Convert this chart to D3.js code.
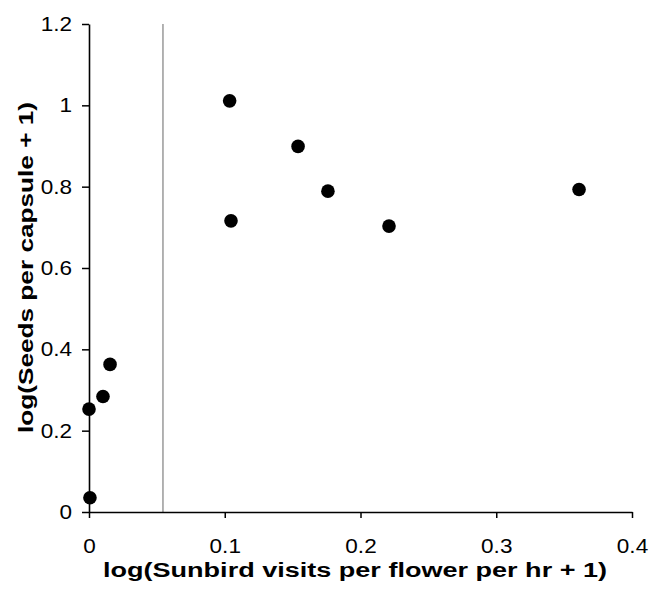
<!DOCTYPE html>
<html>
<head>
<meta charset="utf-8">
<script src="https://cdn.jsdelivr.net/npm/d3@7"></script>
<style>
  html, body { margin: 0; padding: 0; background: #fff; }
  svg { display: block; }
  text { font-family: "Liberation Sans", Arial, sans-serif; fill: #000; }
</style>
</head>
<body>
<svg id="chart" width="651" height="589"></svg>
<script>
// Data
const visits = [0.1036, 0.154, 0.176, 0.1046, 0.221, 0.361, 0.0, 0.0103, 0.0007, 0.0155];
const seeds  = [1.011, 0.899, 0.789, 0.716, 0.703, 0.793, 0.253, 0.284, 0.035, 0.363];
const thresholdX = [0.0545];
const xTicks = [0, 0.1, 0.2, 0.3, 0.4];
const yTicks = [0, 0.2, 0.4, 0.6, 0.8, 1, 1.2];
const xTitle = "log(Sunbird visits per flower per hr + 1)";
const yTitle = "log(Seeds per capsule + 1)";

const margin = { left: 89, right: 19, top: 24, bottom: 77 };
const W = 651, H = 589;
const svg = d3.select("#chart");

const x = d3.scaleLinear().domain([0, 0.4]).range([margin.left, W - margin.right]);
const y = d3.scaleLinear().domain([0, 1.2]).range([H - margin.bottom, margin.top]);

const fmt = d => (d === 0 ? "0" : (d === 1 ? "1" : d.toFixed(1)));

// threshold vertical line
svg.selectAll("line.thr").data(thresholdX).join("line")
  .attr("class", "thr")
  .attr("x1", d => x(d)).attr("x2", d => x(d))
  .attr("y1", y(1.2)).attr("y2", y(0))
  .attr("stroke", "#666").attr("stroke-width", 1);

function widen(sel, k) {
  sel.each(function () {
    const L = this.getComputedTextLength();
    d3.select(this).attr("textLength", L * k).attr("lengthAdjust", "spacingAndGlyphs");
  });
}

// x axis
const xAxis = svg.append("g")
  .attr("transform", `translate(0,${y(0)})`)
  .call(d3.axisBottom(x).tickValues(xTicks).tickFormat(fmt).tickSize(6).tickPadding(20).tickSizeOuter(0));
xAxis.select(".domain").attr("stroke", "#000").attr("stroke-width", 1.6);
xAxis.selectAll(".tick line").attr("stroke", "#000").attr("stroke-width", 1.5);
xAxis.selectAll(".tick text").attr("font-size", 20.5).attr("font-family", "Liberation Sans, Arial, sans-serif");
widen(xAxis.selectAll(".tick text"), 1.1);

// y axis
const yAxis = svg.append("g")
  .attr("transform", `translate(${x(0)},0)`)
  .call(d3.axisLeft(y).tickValues(yTicks).tickFormat(fmt).tickSize(7).tickPadding(10).tickSizeOuter(0));
yAxis.select(".domain").attr("stroke", "#000").attr("stroke-width", 1.6);
yAxis.selectAll(".tick line").attr("stroke", "#000").attr("stroke-width", 1.5);
yAxis.selectAll(".tick text").attr("font-size", 20.5).attr("font-family", "Liberation Sans, Arial, sans-serif");
widen(yAxis.selectAll(".tick text"), 1.1);

// points
const pts = visits.map((v, i) => ({ x: v, y: seeds[i] }));
svg.selectAll("circle.pt").data(pts).join("circle")
  .attr("class", "pt")
  .attr("cx", d => x(d.x)).attr("cy", d => y(d.y))
  .attr("r", 6.8).attr("fill", "#000");

// titles
svg.append("text")
  .attr("x", 355).attr("y", 577)
  .attr("text-anchor", "middle")
  .attr("font-size", 20).attr("font-weight", "bold")
  .attr("textLength", 504).attr("lengthAdjust", "spacingAndGlyphs")
  .text(xTitle);

svg.append("text")
  .attr("transform", `translate(33,267.5) rotate(-90)`)
  .attr("text-anchor", "middle")
  .attr("font-size", 20.5).attr("font-weight", "bold")
  .attr("textLength", 331).attr("lengthAdjust", "spacingAndGlyphs")
  .text(yTitle);
</script>
</body>
</html>
